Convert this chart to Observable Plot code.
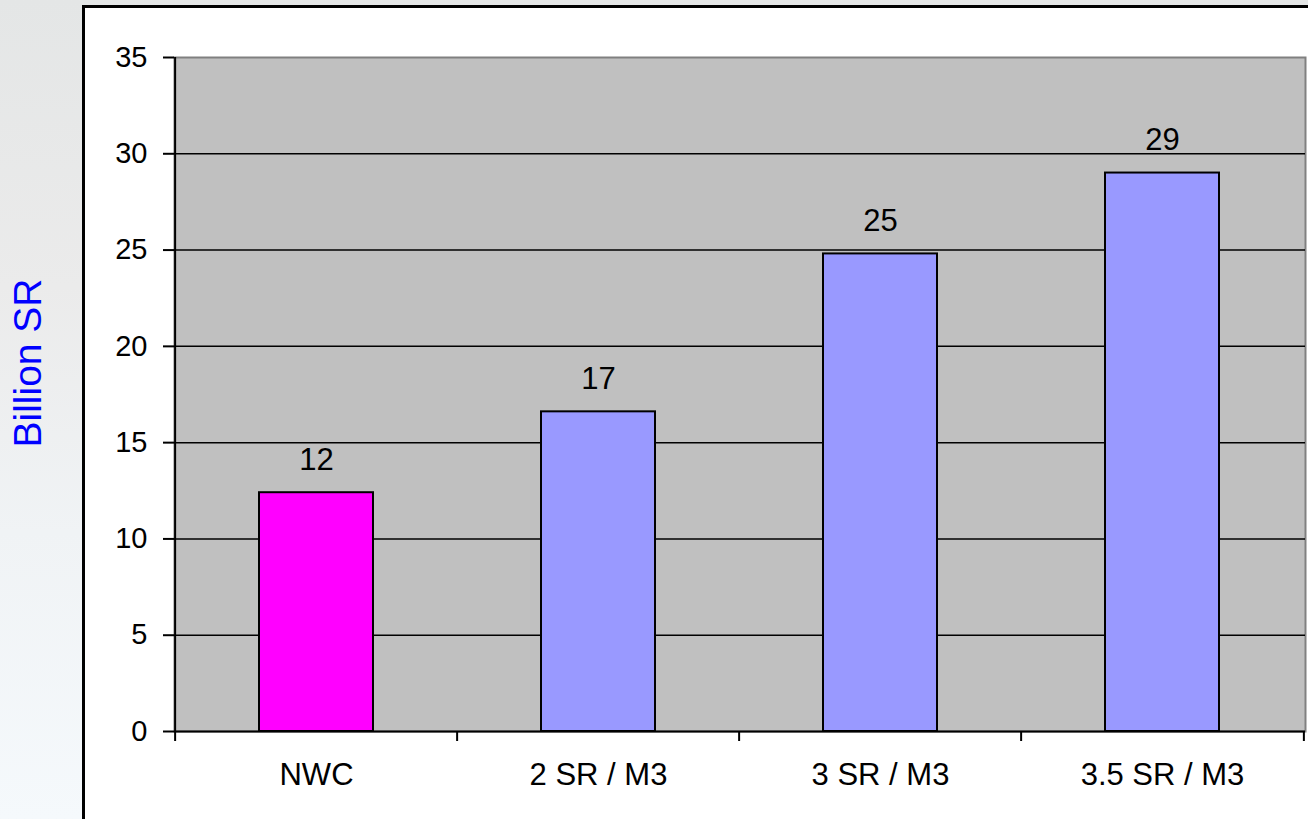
<!DOCTYPE html>
<html>
<head>
<meta charset="utf-8">
<script src="https://cdn.jsdelivr.net/npm/d3@7"></script>
<script src="https://cdn.jsdelivr.net/npm/@observablehq/plot@0.6"></script>
<style>
  html, body { margin: 0; padding: 0; width: 1308px; height: 819px; overflow: hidden; }
  body {
    position: relative;
    font-family: "Liberation Sans", Arial, sans-serif;
    background: linear-gradient(180deg, #e4e6e6 0%, #ebebeb 35%, #f0f3f5 65%, #f5f9fc 100%);
  }
  #panel {
    position: absolute; left: 82px; top: 5px; width: 1240px; height: 830px;
    background: #ffffff; border-left: 3px solid #000; border-top: 3px solid #000;
    box-sizing: border-box;
  }
  #ylabel {
    position: absolute; left: 28px; top: 363px;
    transform: translate(-50%, -50%) rotate(-90deg);
    color: #0000ff; font-size: 39px; white-space: nowrap;
  }
  #chart { position: absolute; left: 0; top: 0; }
</style>
</head>
<body>
<div id="panel"></div>
<div id="ylabel">Billion SR</div>
<div id="chart"></div>
<script>
// Cost scenarios, in billion SR
const categories = ["NWC", "2 SR / M3", "3 SR / M3", "3.5 SR / M3"];
const values = [12.4, 16.6, 24.8, 29.0];
const barColors = ["#ff00ff", "#9999ff", "#9999ff", "#9999ff"];
const yTicks = [0, 5, 10, 15, 20, 25, 30, 35];
const gridLines = [5, 10, 15, 20, 25, 30];

const data = categories.map((c, i) => ({category: c, value: values[i], color: barColors[i]}));

const W = 1308, H = 819;
const mL = 174, mR = 3, mT = 57, mB = 88;
const step = (W - mL - mR) / categories.length;
const font = "'Liberation Sans', Arial, sans-serif";
const fmt = d3.format(".0f");

const chart = Plot.plot({
  width: W, height: H,
  marginLeft: mL, marginRight: mR, marginTop: mT, marginBottom: mB,
  style: {background: "transparent", fontFamily: font, fontSize: "28px", color: "#000"},
  x: {domain: categories, paddingInner: 0.594, paddingOuter: 0.297, align: 0.5, label: null},
  y: {domain: [0, 35], label: null},
  color: {type: "identity"},
  marks: [
    Plot.frame({fill: "#c0c0c0", stroke: "#808080", strokeWidth: 2}),
    Plot.ruleY(gridLines, {stroke: "#000", strokeWidth: 1.5}),
    Plot.barY(data, {x: "category", y: "value", fill: "color", stroke: "#000", strokeWidth: 2}),
    Plot.text(data, {x: "category", y: "value", text: d => fmt(d.value), dy: -33, fontSize: 31, fill: "#000"}),
    Plot.ruleY([0], {stroke: "#000", strokeWidth: 2}),
    Plot.ruleX([categories[0]], {dx: -step / 2, stroke: "#000", strokeWidth: 2}),
    Plot.axisY({ticks: yTicks, tickSize: 11, tickPadding: 16, tickFormat: d => d, fontSize: 29, label: null, strokeWidth: 2}),
    // category boundary ticks below the baseline
    Plot.axisX({dx: -step / 2, tickSize: 10, strokeWidth: 2, tickFormat: () => "", label: null}),
    Plot.axisX({ticks: [categories[categories.length - 1]], dx: step / 2, tickSize: 10, strokeWidth: 2, tickFormat: () => "", label: null}),
    // category names
    Plot.axisX({tickSize: 0, tickPadding: 31, fontSize: 31, label: null})
  ]
});
document.getElementById("chart").appendChild(chart);
</script>
</body>
</html>
